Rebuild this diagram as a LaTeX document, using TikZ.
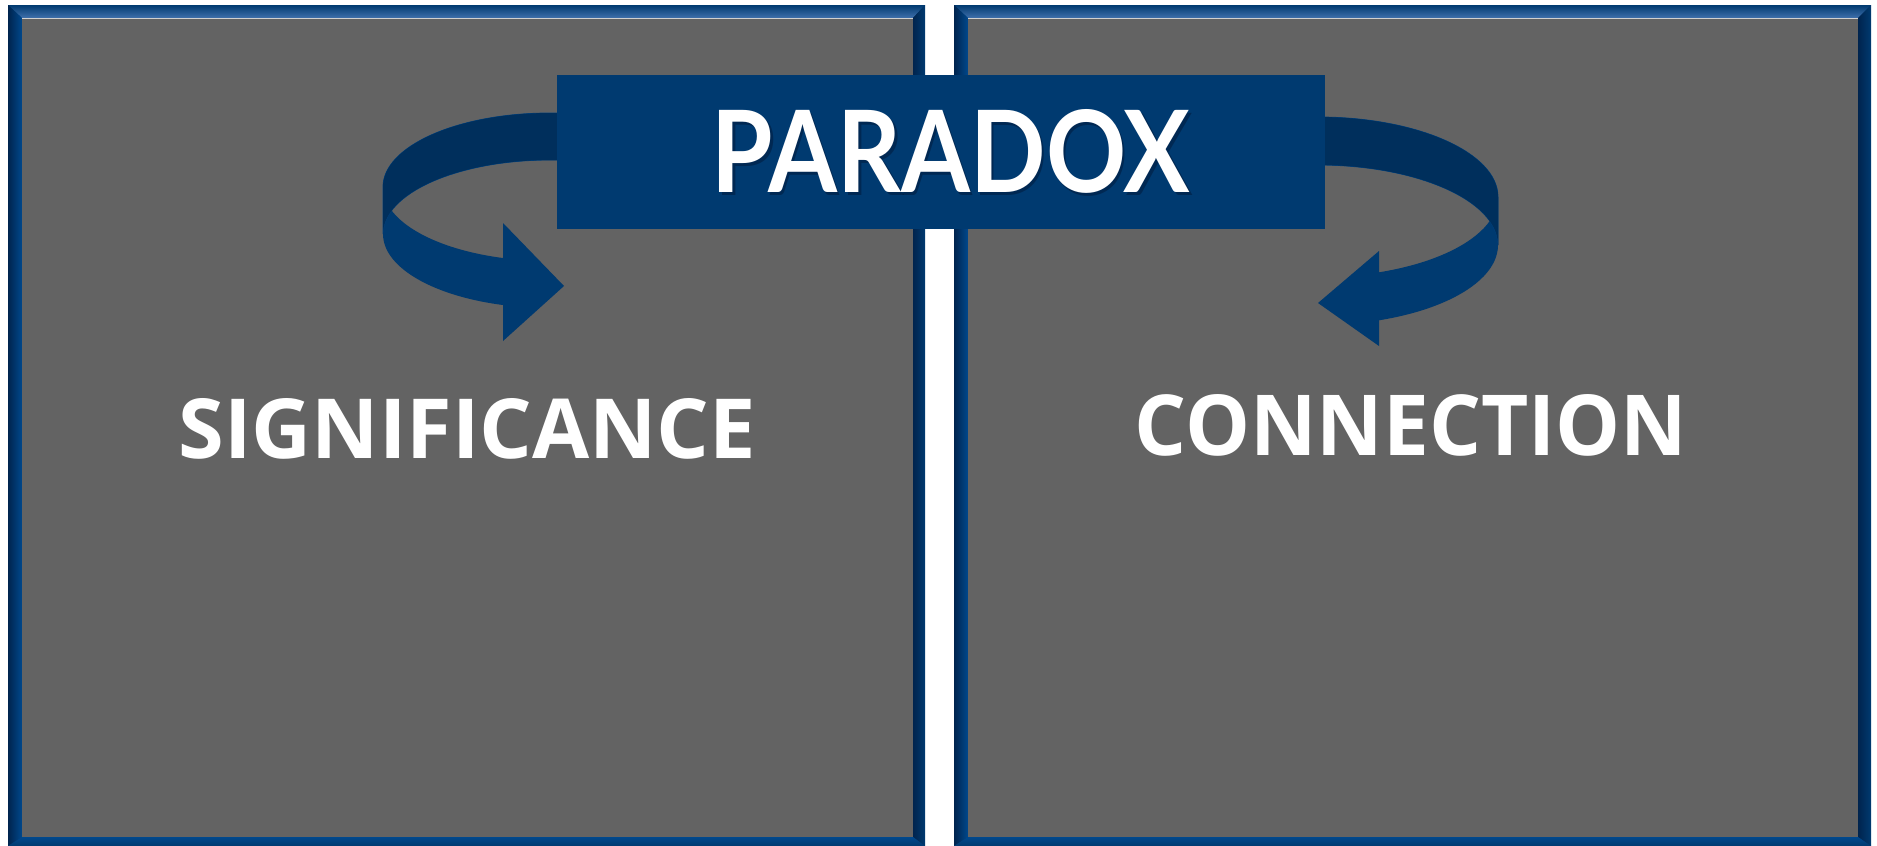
\documentclass[tikz,border=0pt]{standalone}
\usepackage{fontspec}
\setmainfont{Open Sans}
\newfontfamily\titlefont{Lato}
\usepackage{graphicx}

\definecolor{panelgray}{RGB}{99,99,99}
\definecolor{navy}{RGB}{0,58,112}
\definecolor{navyback}{RGB}{0,47,92}
\definecolor{bandedge}{RGB}{0,66,128}
\definecolor{framemid}{RGB}{0,58,112}
\definecolor{framelight}{RGB}{64,112,172}
\definecolor{framedark}{RGB}{0,36,78}
\definecolor{frameblue}{RGB}{0,72,140}
\definecolor{titleshadow}{RGB}{0,20,48}

\tikzset{
  titlebox/.style={fill=navy, draw=none, inner sep=0pt,
    minimum width=768pt, minimum height=154.5pt},
  titletext/.style={text=white, inner sep=0pt},
  titleshade/.style={text=titleshadow, inner sep=0pt, opacity=0.45},
  labeltext/.style={text=white, inner sep=0pt, font=\bfseries},
  backband/.style={fill=navyback, draw=bandedge, line width=0.8pt},
  frontband/.style={fill=navy},
}

\begin{document}
\begin{tikzpicture}[x=1pt,y=-1pt]
\useasboundingbox (0,0) rectangle (1877,846);
\fill[white] (0,0) rectangle (1877,846);

% two bevelled panels: outer x-range, inner x-range
\foreach \xa/\xb/\ia/\ib in {8/925/22/913, 954/1871/968/1858}{
  \fill[framemid] (\xa,5) rectangle (\xb,846);
  % top bevel
  \shade[top color=framemid, bottom color=framelight]
    (\xa,5) -- (\xb,5) -- (\ib,18) -- (\ia,18) -- cycle;
  % left bevel
  \shade[left color=framedark, right color=frameblue]
    (\xa,5) -- (\ia,18) -- (\ia,837) -- (\xa,846) -- cycle;
  % right bevel
  \shade[left color=framedark, right color=framemid]
    (\ib,18) -- (\xb,5) -- (\xb,846) -- (\ib,837) -- cycle;
  % bottom bevel
  \shade[top color=frameblue, bottom color=framemid]
    (\ia,837) -- (\ib,837) -- (\xb,846) -- (\xa,846) -- cycle;
  \fill[panelgray] (\ia,18) rectangle (\ib,837);
  \draw[white!70!panelgray, line width=0.8pt] (\ia,18.4) -- (\ib,18.4);
}

% left curved arrow: front face first, then the back face over it
\begin{scope}
  \clip (370,150) rectangle (504,330);
  \fill[frontband] (383,187) .. controls (383,227.9) and (457.8,261) .. (550,261)
    -- (550,308) .. controls (457.8,308) and (383,274.9) .. (383,234) -- cycle;
\end{scope}
\fill[frontband] (503,223) -- (564,286) -- (503,341) -- cycle;
\path[backband] (560,113) -- (550,113) .. controls (457.8,113) and (383,146.1) .. (383,187)
  -- (383,234) .. controls (383,193.1) and (457.8,160) .. (550,160) -- (560,160);
\fill[navyback] (560,113) -- (550,113) .. controls (457.8,113) and (383,146.1) .. (383,187)
  -- (383,234) .. controls (383,193.1) and (457.8,160) .. (550,160) -- (560,160) -- cycle;

% right curved arrow
\begin{scope}
  \clip (1378,150) rectangle (1510,340);
  \fill[frontband] (1498,197) .. controls (1498,241.2) and (1417.4,277) .. (1318,277)
    -- (1318,325) .. controls (1417.4,325) and (1498,289.2) .. (1498,245) -- cycle;
\end{scope}
\fill[frontband] (1379,251) -- (1318,303) -- (1379,346) -- cycle;
\path[backband] (1310,117) -- (1318,117) .. controls (1417.4,117) and (1498,152.8) .. (1498,197)
  -- (1498,245) .. controls (1498,200.8) and (1417.4,165) .. (1318,165) -- (1310,165);
\fill[navyback] (1310,117) -- (1318,117) .. controls (1417.4,117) and (1498,152.8) .. (1498,197)
  -- (1498,245) .. controls (1498,200.8) and (1417.4,165) .. (1318,165) -- (1310,165) -- cycle;

% title box
\node[titlebox] (paradoxbox) at (941,151.75) {};
\node[titleshade] (paradoxshadow) at (953.5,154) {\resizebox{478pt}{83pt}{\titlefont\bfseries PARADOX}};
\node[titletext] (paradox) at (951,151.5) {\resizebox{478pt}{83pt}{\titlefont\bfseries PARADOX}};

% panel labels
\node[labeltext] (significance) at (467.5,429) {\resizebox{577pt}{60pt}{SIGNIFICANCE}};
\node[labeltext] (connection) at (1411,425.5) {\resizebox{552pt}{61pt}{CONNECTION}};
\end{tikzpicture}
\end{document}
